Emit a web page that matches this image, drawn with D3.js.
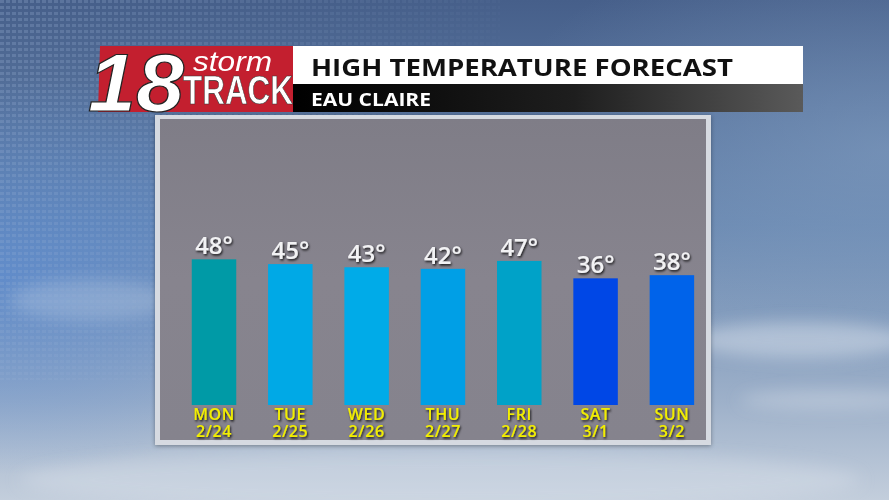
<!DOCTYPE html>
<html><head><meta charset="utf-8">
<script src="https://cdn.jsdelivr.net/npm/d3@7"></script>
<style>html,body{margin:0;padding:0;background:#5b7aa3;overflow:hidden}svg{display:block}</style>
</head><body>
<script>
const days = ["MON","TUE","WED","THU","FRI","SAT","SUN"];
const dates = ["2/24","2/25","2/26","2/27","2/28","3/1","3/2"];
const highs = [48,45,43,42,47,36,38];
const barColors = ["#009aa6","#00a9e6","#00abe8","#009fe6","#00a2c8","#0047e6","#0063ea"];
const title = "HIGH TEMPERATURE FORECAST";
const subtitle = "EAU CLAIRE";

const W = 889, H = 500;
const svg = d3.select("body").append("svg").attr("width", W).attr("height", H);
const defs = svg.append("defs");

// sky background
const sky = defs.append("linearGradient").attr("id","sky").attr("x1",0).attr("y1",0).attr("x2",0).attr("y2",1);
sky.append("stop").attr("offset","0%").attr("stop-color","#465f8a");
sky.append("stop").attr("offset","45%").attr("stop-color","#6786af");
sky.append("stop").attr("offset","80%").attr("stop-color","#9db0c9");
sky.append("stop").attr("offset","100%").attr("stop-color","#c3cedc");
const glow = defs.append("radialGradient").attr("id","glow").attr("cx","0%").attr("cy","55%").attr("r","40%");
glow.append("stop").attr("offset","0%").attr("stop-color","#5a8ad0").attr("stop-opacity",0.75);
glow.append("stop").attr("offset","100%").attr("stop-color","#5a8ad0").attr("stop-opacity",0);
const glowR = defs.append("radialGradient").attr("id","glowR").attr("cx","100%").attr("cy","30%").attr("r","45%");
glowR.append("stop").attr("offset","0%").attr("stop-color","#8aa6c8").attr("stop-opacity",0.5);
glowR.append("stop").attr("offset","100%").attr("stop-color","#8aa6c8").attr("stop-opacity",0);
const cloud = defs.append("filter").attr("id","cloud").attr("x","-50%").attr("y","-50%").attr("width","200%").attr("height","200%");
cloud.append("feGaussianBlur").attr("stdDeviation",8);

svg.append("rect").attr("width",W).attr("height",H).attr("fill","url(#sky)");
svg.append("rect").attr("width",W).attr("height",H).attr("fill","url(#glow)");
svg.append("rect").attr("width",W).attr("height",H).attr("fill","url(#glowR)");
// soft clouds
const cl = svg.append("g").attr("filter","url(#cloud)").attr("fill","#dfe6ef");
cl.append("ellipse").attr("cx",800).attr("cy",340).attr("rx",110).attr("ry",18).attr("opacity",0.45);
cl.append("ellipse").attr("cx",830).attr("cy",400).attr("rx",90).attr("ry",10).attr("opacity",0.35);
cl.append("ellipse").attr("cx",90).attr("cy",300).attr("rx",80).attr("ry",20).attr("opacity",0.25);
cl.append("ellipse").attr("cx",440).attr("cy",480).attr("rx",420).attr("ry",30).attr("opacity",0.35);

// dotted data pattern top-left
const pat = defs.append("pattern").attr("id","dots").attr("width",6).attr("height",6).attr("patternUnits","userSpaceOnUse");
pat.append("rect").attr("width",4).attr("height",3).attr("fill","#9db5d6").attr("opacity",0.35);
const fadeM = defs.append("linearGradient").attr("id","fadeM").attr("x1",0).attr("y1",0).attr("x2",1).attr("y2",0.4);
fadeM.append("stop").attr("offset","0%").attr("stop-color","#fff").attr("stop-opacity",0.8);
fadeM.append("stop").attr("offset","100%").attr("stop-color","#fff").attr("stop-opacity",0);
defs.append("mask").attr("id","dm").append("rect").attr("width",500).attr("height",380).attr("fill","url(#fadeM)");
svg.append("rect").attr("width",500).attr("height",380).attr("fill","url(#dots)").attr("mask","url(#dm)");

// shadows
const sh = defs.append("filter").attr("id","tshadow").attr("x","-20%").attr("y","-20%").attr("width","140%").attr("height","140%");
sh.append("feDropShadow").attr("dx",1).attr("dy",1.5).attr("stdDeviation",0.8).attr("flood-color","#000").attr("flood-opacity",0.85);
const psh = defs.append("filter").attr("id","pshadow").attr("x","-10%").attr("y","-10%").attr("width","120%").attr("height","120%");
psh.append("feDropShadow").attr("dx",0).attr("dy",1).attr("stdDeviation",2).attr("flood-color","#000").attr("flood-opacity",0.35);

// chart panel
svg.append("rect").attr("x",155).attr("y",115).attr("width",556).attr("height",330)
  .attr("fill","#d6dae1").attr("filter","url(#pshadow)");
const pg = defs.append("linearGradient").attr("id","panel").attr("x1",0).attr("y1",0).attr("x2",0).attr("y2",1);
pg.append("stop").attr("offset","0%").attr("stop-color","#7f7d87");
pg.append("stop").attr("offset","50%").attr("stop-color","#87848e");
pg.append("stop").attr("offset","100%").attr("stop-color","#85838d");
svg.append("rect").attr("x",160).attr("y",119).attr("width",546).attr("height",321).attr("fill","url(#panel)");

// header
const hdr = svg.append("g");
hdr.append("rect").attr("x",293).attr("y",46).attr("width",510).attr("height",38).attr("fill","#ffffff");
const db = defs.append("linearGradient").attr("id","dark").attr("x1",0).attr("y1",0).attr("x2",1).attr("y2",0);
db.append("stop").attr("offset","0%").attr("stop-color","#000");
db.append("stop").attr("offset","55%").attr("stop-color","#1e1e1e");
db.append("stop").attr("offset","100%").attr("stop-color","#5a5a5a");
hdr.append("rect").attr("x",293).attr("y",84).attr("width",510).attr("height",28).attr("fill","url(#dark)");
hdr.append("text").attr("x",311).attr("y",76).text(title)
  .attr("font-family","'Open Sans', sans-serif").attr("font-weight",700).attr("font-size",24)
  .attr("fill","#111").attr("textLength",422).attr("lengthAdjust","spacingAndGlyphs");
hdr.append("text").attr("x",311).attr("y",106).text(subtitle)
  .attr("font-family","'Open Sans', sans-serif").attr("font-weight",700).attr("font-size",18)
  .attr("fill","#fff").attr("textLength",120).attr("lengthAdjust","spacingAndGlyphs");

// logo
const logo = svg.append("g");
logo.append("path").attr("d","M100,46 L293,46 L293,112 L98,112 Z").attr("fill","#c31f2f");
logo.append("text").attr("x",88).attr("y",111).text("18")
  .attr("font-family","'Liberation Sans', Arial, sans-serif").attr("font-weight",700).attr("font-style","italic")
  .attr("font-size",82).attr("fill","#fff").attr("stroke","#222").attr("stroke-width",1.2)
  .attr("textLength",96).attr("lengthAdjust","spacingAndGlyphs");
logo.append("text").attr("x",193).attr("y",71).text("storm")
  .attr("font-family","'Liberation Sans', Arial, sans-serif").attr("font-style","italic")
  .attr("font-size",27).attr("fill","#fff").attr("textLength",79).attr("lengthAdjust","spacingAndGlyphs");
logo.append("text").attr("x",183).attr("y",104).text("TRACK")
  .attr("font-family","'Liberation Sans Narrow', 'Liberation Sans', sans-serif").attr("font-weight",700)
  .attr("font-size",40).attr("fill","#fff").attr("stroke","#333").attr("stroke-width",0.6)
  .attr("textLength",110).attr("lengthAdjust","spacingAndGlyphs");

// scales
const x = d3.scaleBand().domain(days).range([191.75, 694.15]).paddingInner(0.417).paddingOuter(0);
const y = d3.scaleLinear().domain([-44, 100]).range([405, 177]);

const g = svg.append("g");
g.selectAll("rect.bar").data(highs).join("rect").attr("class","bar")
  .attr("x",(d,i)=>x(days[i])).attr("width",x.bandwidth())
  .attr("y",d=>y(d)).attr("height",d=>y(-44)-y(d))
  .attr("fill",(d,i)=>barColors[i]);

g.selectAll("text.val").data(highs).join("text").attr("class","val")
  .attr("x",(d,i)=>x(days[i])+x.bandwidth()/2)
  .attr("y",d=>y(d)-5)
  .attr("text-anchor","middle")
  .attr("font-family","'Open Sans', sans-serif").attr("font-weight",600).attr("font-size",24)
  .attr("fill","#f2f2f4").attr("filter","url(#tshadow)")
  .text(d=>d+"°");

const cx = d => x(d)+x.bandwidth()/2;
g.selectAll("text.day").data(days).join("text").attr("class","day")
  .attr("x",cx).attr("y",420).attr("text-anchor","middle")
  .attr("font-family","'Open Sans', sans-serif").attr("font-weight",600).attr("font-size",16)
  .attr("letter-spacing",0.6)
  .attr("fill","#f2ee00").attr("filter","url(#tshadow)").text(d=>d);
g.selectAll("text.date").data(days).join("text").attr("class","date")
  .attr("x",cx).attr("y",437).attr("text-anchor","middle")
  .attr("font-family","'Open Sans', sans-serif").attr("font-weight",600).attr("font-size",16)
  .attr("letter-spacing",0.6)
  .attr("fill","#f2ee00").attr("filter","url(#tshadow)").text((d,i)=>dates[i]);
</script>
</body></html>
